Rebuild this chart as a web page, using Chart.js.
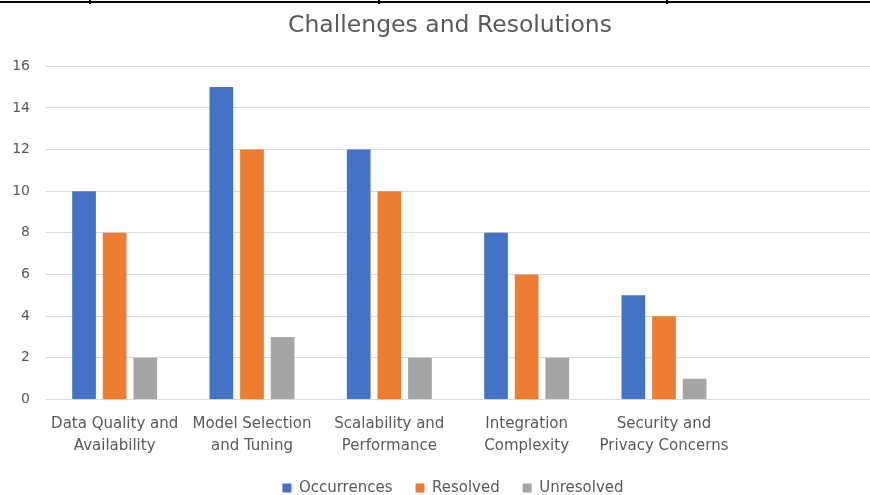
<!DOCTYPE html>
<html>
<head>
<meta charset="utf-8">
<script src="https://cdn.jsdelivr.net/npm/chart.js@4.4.1/dist/chart.umd.min.js"></script>
<style>
  html, body { margin: 0; padding: 0; background: #ffffff; }
  #wrap { position: relative; width: 870px; height: 495px; }
</style>
</head>
<body>
<div id="wrap"><canvas id="c" width="870" height="495"></canvas></div>
<script>
const categories = [
  ['Data Quality and', 'Availability'],
  ['Model Selection', 'and Tuning'],
  ['Scalability and', 'Performance'],
  ['Integration', 'Complexity'],
  ['Security and', 'Privacy Concerns'],
  ''
];
const occurrences = [10, 15, 12, 8, 5];
const resolved = [8, 12, 10, 6, 4];
const unresolved = [2, 3, 2, 2, 1];
const yTicks = [0, 2, 4, 6, 8, 10, 12, 14, 16];

const FONT = "'DejaVu Sans', sans-serif";
const TXT = '#595959';

const tableLines = {
  id: 'tableLines',
  afterDraw(chart) {
    const ctx = chart.ctx;
    ctx.save();
    ctx.fillStyle = '#000000';
    ctx.fillRect(0, 1, 870, 2);
    [89, 378, 666].forEach(x => ctx.fillRect(x, 0, 2, 4));
    ctx.restore();
  }
};

const boxShift = {
  id: 'boxShift',
  afterLayout(chart) {
    if (chart.legend) {
      chart.legend.left += 13;
      chart.legend.right += 13;
    }
    if (chart.titleBlock) {
      chart.titleBlock.left += 10;
      chart.titleBlock.right += 10;
    }
  }
};

new Chart(document.getElementById('c'), {
  type: 'bar',
  data: {
    labels: categories,
    datasets: [
      { label: 'Occurrences', data: occurrences, backgroundColor: '#4472C4' },
      { label: 'Resolved', data: resolved, backgroundColor: '#ED7D31' },
      { label: 'Unresolved', data: unresolved, backgroundColor: '#A5A5A5' }
    ]
  },
  options: {
    responsive: false,
    animation: false,
    devicePixelRatio: 1,
    layout: { padding: { left: 0, right: -10, top: 0, bottom: -10.5 } },
    datasets: { bar: { categoryPercentage: 0.669, barPercentage: 0.774 } },
    plugins: {
      title: {
        display: true,
        text: 'Challenges and Resolutions',
        color: TXT,
        font: { family: FONT, size: 23.5, weight: 'normal', lineHeight: 1.2 },
        padding: { top: 12, bottom: 26 }
      },
      legend: {
        position: 'bottom',
        labels: {
          color: TXT,
          font: { family: FONT, size: 15 },
          boxWidth: 9,
          boxHeight: 9,
          padding: 23
        }
      },
      tooltip: { enabled: false }
    },
    scales: {
      x: {
        afterFit(scale) { scale.height = 58; },
        grid: { display: false, drawTicks: false },
        border: { display: true, color: '#d9d9d9', width: 1 },
        ticks: {
          color: TXT,
          font: { family: FONT, size: 15, lineHeight: 1.467 },
          padding: 14,
          maxRotation: 0,
          autoSkip: false
        }
      },
      y: {
        min: 0,
        max: 16,
        afterFit(scale) { scale.width = 46; },
        afterBuildTicks(scale) { scale.ticks = yTicks.map(v => ({ value: v })); },
        grid: { color: '#d9d9d9', lineWidth: 1, drawTicks: false },
        border: { display: false },
        ticks: {
          color: TXT,
          font: { family: FONT, size: 14 },
          padding: 16
        }
      }
    }
  },
  plugins: [tableLines, boxShift]
});
</script>
</body>
</html>
